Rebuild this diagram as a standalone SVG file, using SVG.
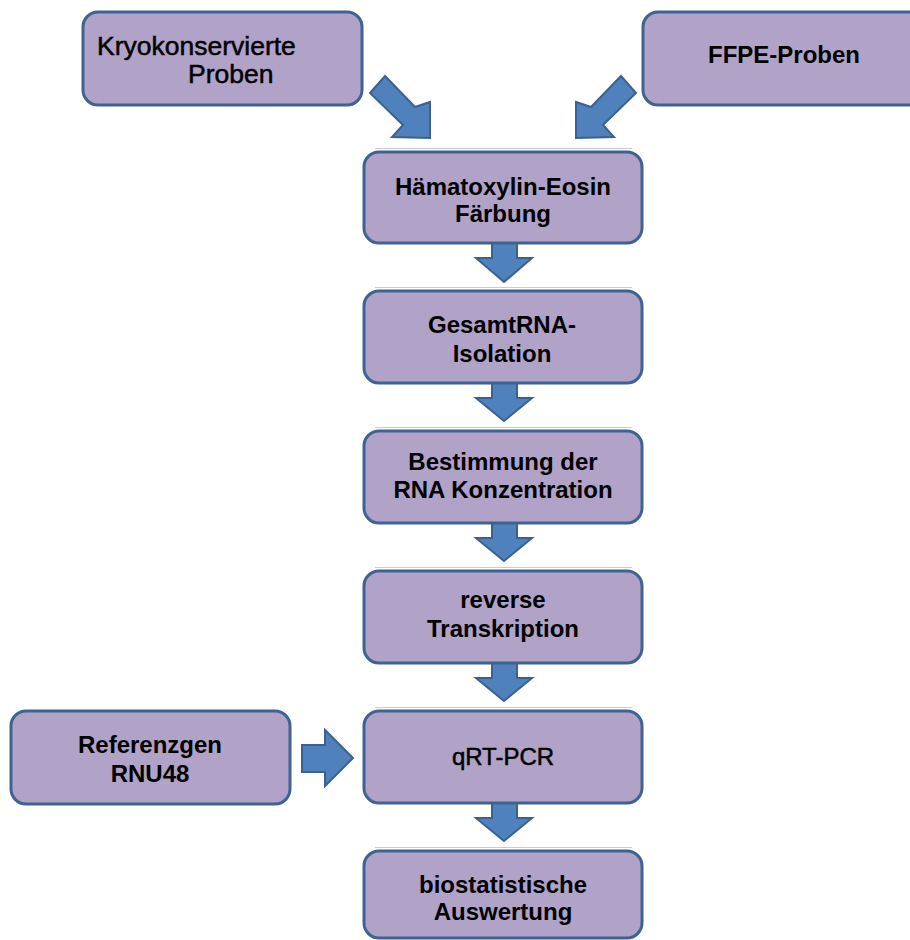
<svg xmlns="http://www.w3.org/2000/svg" width="910" height="940" viewBox="0 0 910 940">
<style>
.box{fill:#b1a2c8;stroke:#3f6391;stroke-width:3}
.arr{fill:#4f81bd;stroke:#3a6190;stroke-width:2;stroke-linejoin:miter}
.glow{stroke:#c3cddb;stroke-width:1.2;fill:none}
text{font-family:"Liberation Sans",Arial,sans-serif;font-size:24px;fill:#000}
.b{font-weight:bold;text-anchor:middle}
.r{font-weight:normal;stroke:#000;stroke-width:0.5}
</style>
<rect width="910" height="940" fill="#ffffff"/>
<g id="glows">
<line class="glow" x1="375" y1="148.5" x2="632" y2="148.5"/>
<line class="glow" x1="375" y1="287.5" x2="632" y2="287.5"/>
<line class="glow" x1="375" y1="427.5" x2="632" y2="427.5"/>
<line class="glow" x1="375" y1="567.5" x2="632" y2="567.5"/>
<line class="glow" x1="375" y1="707.5" x2="632" y2="707.5"/>
<line class="glow" x1="375" y1="847.5" x2="632" y2="847.5"/>
</g>
<g id="connectors">
<polygon class="arr" points="385,76 415,107 430,102 430,138 392,137 403,125 370,93"/>
<polygon class="arr" points="621,76 591,107 576,102 576,138 614,137 603,125 636,93"/>
<polygon class="arr" points="492,243 517,243 517,258 532,258 504,282 476,258 492,258"/>
<polygon class="arr" points="492,383 517,383 517,398 532,398 504,421 476,398 492,398"/>
<polygon class="arr" points="492,523 517,523 517,538 532,538 504,561 476,538 492,538"/>
<polygon class="arr" points="492,663 517,663 517,678 532,678 504,701 476,678 492,678"/>
<polygon class="arr" points="492,803 517,803 517,818 532,818 504,841 476,818 492,818"/>
<polygon class="arr" points="302,745 325,745 325,730 353,758 325,786 325,772 302,772"/>
</g>
<g id="kryo">
<rect class="box" x="83" y="12" width="279" height="93" rx="15"/>
<text class="r" x="97" y="55" style="font-size:26.5px">Kryokonservierte</text>
<text class="r" x="188" y="83" style="font-size:26.5px">Proben</text>
</g>
<g id="ffpe">
<rect class="box" x="643" y="12" width="290" height="93" rx="15"/>
<text class="b" x="784" y="63">FFPE-Proben</text>
</g>
<g id="he">
<rect class="box" x="364" y="152" width="278" height="91" rx="15"/>
<text class="b" x="503" y="195">Hämatoxylin-Eosin</text>
<text class="b" x="503" y="222">Färbung</text>
</g>
<g id="rna">
<rect class="box" x="364" y="291" width="278" height="92" rx="15"/>
<text class="b" x="502" y="333">GesamtRNA-</text>
<text class="b" x="502" y="362">Isolation</text>
</g>
<g id="konz">
<rect class="box" x="364" y="431" width="278" height="92" rx="15"/>
<text class="b" x="503" y="470">Bestimmung der</text>
<text class="b" x="503" y="498">RNA Konzentration</text>
</g>
<g id="rt">
<rect class="box" x="364" y="571" width="278" height="92" rx="15"/>
<text class="b" x="503" y="608">reverse</text>
<text class="b" x="503" y="637">Transkription</text>
</g>
<g id="qpcr">
<rect class="box" x="364" y="711" width="278" height="92" rx="15"/>
<text class="r" x="503" y="765" text-anchor="middle">qRT-PCR</text>
</g>
<g id="ref">
<rect class="box" x="11" y="711" width="279" height="93" rx="15"/>
<text class="b" x="150" y="753">Referenzgen</text>
<text class="b" x="150" y="782">RNU48</text>
</g>
<g id="bio">
<rect class="box" x="364" y="851" width="278" height="87" rx="15"/>
<text class="b" x="503" y="893">biostatistische</text>
<text class="b" x="503" y="920">Auswertung</text>
</g>
</svg>
